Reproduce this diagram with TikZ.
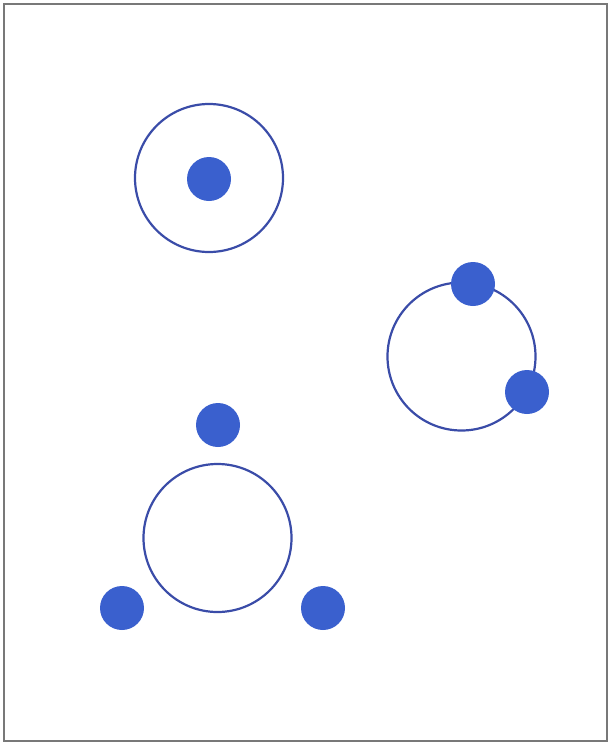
\documentclass[tikz,border=0pt]{standalone}
\definecolor{ringblue}{RGB}{58,76,168}
\definecolor{dotblue}{RGB}{58,96,206}
\definecolor{framegray}{RGB}{120,120,120}
\begin{document}
\begin{tikzpicture}[x=1pt,y=-1pt,
  ring/.style={circle,draw=ringblue,line width=2.2pt,inner sep=0pt,minimum size=148pt},
  dot/.style={circle,fill=dotblue,inner sep=0pt,minimum size=44pt}]
\useasboundingbox (0,0) rectangle (609,744);
\draw[framegray,line width=1.4pt] (4,4) rectangle (607,741);
% group 1
\node[ring] (r1) at (209,178) {};
\node[dot] (d1) at (209,179) {};
% group 2
\node[ring] (r2) at (461.5,356.5) {};
\node[dot] (d2a) at (473,284) {};
\node[dot] (d2b) at (527,392) {};
% group 3
\node[ring] (r3) at (217.5,538) {};
\node[dot] (d3a) at (218,425) {};
\node[dot] (d3b) at (122,608) {};
\node[dot] (d3c) at (323,608) {};
\end{tikzpicture}
\end{document}
